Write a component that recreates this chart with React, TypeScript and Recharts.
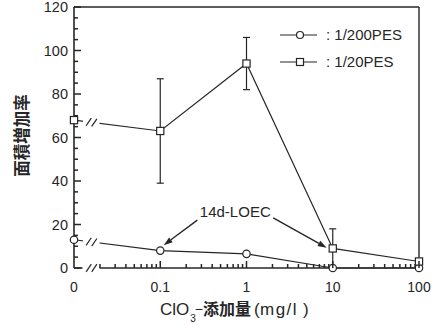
import React from 'react'
import { LineChart, Line, XAxis, YAxis, ErrorBar, ReferenceLine, ReferenceDot, Legend } from 'recharts'

// x positions are evenly spaced decades, with "0" one decade left of 0.1 (axis is broken there)
const xLabels = ['0', '0.1', '1', '10', '100']
const xPos = [0, 1, 2, 3, 4]
const pes200 = [13, 8, 6.5, 0, 0]
const pes20 = [68, 63, 94, 9, 3]
const pes20Err: (number | null)[] = [null, 24, 12, 9, null]

const yTicks = [0, 5, 10, 15, 20, 25, 30, 35, 40, 45, 50, 55, 60, 65, 70, 75, 80, 85, 90, 95, 100, 105, 110, 115, 120]
const minorSteps = [2, 3, 4, 5, 6, 7, 8, 9]
const xTicks = [
  ...xPos,
  ...[0, 1, 2, 3].flatMap((d) => minorSteps.map((m) => d + Math.log10(m))),
].sort((a, b) => a - b)

// "14d-LOEC" annotation, in data units
const loecLabel = { x: 1.87, y: 26 }
const loecArrows = [
  [{ x: 1.43, y: 22 }, { x: 1.04, y: 10.5 }],
  [{ x: 2.31, y: 23 }, { x: 2.93, y: 9.3 }],
]

const data = xPos.map((x, i) => ({
  x,
  pes200: pes200[i],
  pes20: pes20[i],
  err: pes20Err[i],
}))

const ink = '#262626'
const sans = '"Liberation Sans", Arial, Helvetica, sans-serif'
const cjk = '"Noto Sans CJK JP", "Noto Sans CJK SC", sans-serif'

function Slash({ x, y }: { x: number; y: number }) {
  return <line x1={x - 2.6} y1={y + 3.8} x2={x + 2.6} y2={y - 3.8} stroke={ink} strokeWidth={1.2} />
}

function makeDot(kind: 'circle' | 'square') {
  return (p: any) => {
    const { cx, cy, index, points } = p
    const k = `${kind}-${index}`
    if (cx == null || cy == null) return <g key={k} />
    const marker =
      kind === 'circle' ? (
        <circle cx={cx} cy={cy} r={3.7} fill="#fff" stroke={ink} strokeWidth={1.2} />
      ) : (
        <rect x={cx - 3.6} y={cy - 3.6} width={7.2} height={7.2} fill="#fff" stroke={ink} strokeWidth={1.2} />
      )
    if (index !== 0 || !points || points.length < 2) return <g key={k}>{marker}</g>
    // break in the first segment: white gap plus "//"
    const p1 = points[1]
    const at = (px: number) => cy + ((p1.y - cy) * (px - cx)) / (p1.x - cx)
    const g0 = cx + 9
    const g1 = cx + 25.5
    return (
      <g key={k}>
        <polygon
          points={`${g0},${at(g0) - 3} ${g1},${at(g1) - 3} ${g1},${at(g1) + 3} ${g0},${at(g0) + 3}`}
          fill="#fff"
        />
        <Slash x={cx + 14.7} y={at(cx + 14.7)} />
        <Slash x={cx + 20.3} y={at(cx + 20.3)} />
        {marker}
      </g>
    )
  }
}

function XTick(props: any) {
  const x = Number(props.x)
  const y = Number(props.y)
  const v = props.payload.value as number
  const major = Number.isInteger(v)
  return (
    <g>
      {v !== 0 && <line x1={x} y1={y} x2={x} y2={y - (major ? 7 : 4)} stroke={ink} strokeWidth={1.5} />}
      {v === 0 && (
        <g>
          <rect x={x + 8.5} y={y - 3} width={17} height={6} fill="#fff" />
          <Slash x={x + 14.7} y={y} />
          <Slash x={x + 20.3} y={y} />
        </g>
      )}
      {major && (
        <text x={x} y={y + 24} textAnchor="middle" fontSize={14} fontFamily={sans} fill={ink}>
          {xLabels[v]}
        </text>
      )}
    </g>
  )
}

function YTick(props: any) {
  const x = Number(props.x)
  const y = Number(props.y)
  const v = props.payload.value as number
  const major = v % 20 === 0
  return (
    <g>
      <line x1={x} y1={y} x2={x + (major ? 7 : 4)} y2={y} stroke={ink} strokeWidth={1.5} />
      {major && (
        <text x={x - 6} y={y + 5} textAnchor="end" fontSize={14.5} fontFamily={sans} fill={ink}>
          {v}
        </text>
      )}
    </g>
  )
}

function YTitle(props: any) {
  const vb = props.viewBox || { x: 0, y: 7, width: 74, height: 261 }
  const cx = vb.x + 21
  const cy = vb.y + vb.height / 2 - 2
  return (
    <text
      x={cx}
      y={cy}
      transform={`rotate(-90, ${cx}, ${cy})`}
      textAnchor="middle"
      dominantBaseline="central"
      fontSize={16.5}
      fontWeight="bold"
      fontFamily={cjk}
      fill={ink}
    >
      面積増加率
    </text>
  )
}

function XTitle(props: any) {
  const vb = props.viewBox || { x: 74, y: 268, width: 345, height: 61 }
  const x = vb.x + 86
  const y = vb.y + 47
  return (
    <text x={x} y={y} fontSize={17} fontFamily={sans} fill={ink}>
      ClO
      <tspan fontSize={10} dx={1} dy={7}>3</tspan>
      <tspan fontSize={14} dx={-1} dy={-8}>−</tspan>
      <tspan x={x + 43} dy={1} fontFamily={cjk} fontSize={16} fontWeight="bold">添加量</tspan>
      <tspan x={x + 94}>(</tspan>
      <tspan x={x + 100} letterSpacing={1.5}>mg/l</tspan>
      <tspan x={x + 143}>)</tspan>
    </text>
  )
}

function LegendRow({ kind, text }: { kind: 'circle' | 'square'; text: string }) {
  return (
    <div style={{ display: 'flex', alignItems: 'center', height: 27 }}>
      <svg width={38} height={12} style={{ display: 'block' }}>
        <line x1={0} y1={6} x2={37} y2={6} stroke={ink} strokeWidth={1.2} />
        {kind === 'circle' ? (
          <circle cx={20} cy={6} r={3.5} fill="#fff" stroke={ink} strokeWidth={1.2} />
        ) : (
          <rect x={16.5} y={2.5} width={7} height={7} fill="#fff" stroke={ink} strokeWidth={1.2} />
        )}
      </svg>
      <span style={{ marginLeft: 8, fontSize: 15, fontFamily: sans, color: ink, whiteSpace: 'nowrap' }}>{text}</span>
    </div>
  )
}

function LegendBox() {
  return (
    <div>
      <LegendRow kind="circle" text=": 1/200PES" />
      <LegendRow kind="square" text=": 1/20PES" />
    </div>
  )
}

function Arrow(props: any) {
  const { x1, y1, x2, y2 } = props
  if (x1 == null) return <g />
  const ang = Math.atan2(y2 - y1, x2 - x1)
  const len = 9
  const w = 3
  const bx = x2 - len * Math.cos(ang)
  const by = y2 - len * Math.sin(ang)
  const px = -Math.sin(ang) * w
  const py = Math.cos(ang) * w
  return (
    <g>
      <line x1={x1} y1={y1} x2={bx} y2={by} stroke={ink} strokeWidth={1.4} />
      <polygon points={`${x2},${y2} ${bx + px},${by + py} ${bx - px},${by - py}`} fill={ink} />
    </g>
  )
}

export default function App() {
  return (
    <div style={{ position: 'absolute', left: 0, top: 0, background: '#fff' }}>
      <LineChart width={440} height={329} data={data} margin={{ top: 7, right: 21, bottom: 0, left: 0 }}>
        <XAxis
          dataKey="x"
          type="number"
          domain={[0, 4]}
          ticks={xTicks}
          interval={0}
          tickSize={0}
          tickMargin={0}
          tickLine={false}
          tick={<XTick />}
          axisLine={{ stroke: ink, strokeWidth: 1.6 }}
          height={61}
          label={<XTitle />}
        />
        <YAxis
          type="number"
          domain={[0, 120]}
          ticks={yTicks}
          interval={0}
          tickSize={0}
          tickMargin={0}
          tickLine={false}
          tick={<YTick />}
          axisLine={{ stroke: ink, strokeWidth: 1.6 }}
          width={74}
          label={<YTitle />}
        />
        <ReferenceLine y={120} stroke={ink} strokeWidth={1.4} />
        <ReferenceLine x={4} stroke={ink} strokeWidth={1.4} />
        <Line
          dataKey="pes200"
          stroke={ink}
          strokeWidth={1.2}
          dot={makeDot('circle')}
          activeDot={false}
          isAnimationActive={false}
        />
        <Line
          dataKey="pes20"
          stroke={ink}
          strokeWidth={1.2}
          dot={makeDot('square')}
          activeDot={false}
          isAnimationActive={false}
        >
          <ErrorBar dataKey="err" direction="y" width={3.5} stroke={ink} strokeWidth={1.2} isAnimationActive={false} />
        </Line>
        {loecArrows.map((seg, i) => (
          <ReferenceLine key={i} segment={seg} shape={<Arrow />} />
        ))}
        <ReferenceDot
          x={loecLabel.x}
          y={loecLabel.y}
          r={0}
          fill="none"
          stroke="none"
          label={{ value: '14d-LOEC', position: 'center', fontSize: 15, fontFamily: sans, fill: ink }}
        />
        <Legend
          layout="horizontal"
          verticalAlign="middle"
          align="center"
          content={<LegendBox />}
          wrapperStyle={{ top: 21, left: 280, width: 150 }}
        />
      </LineChart>
    </div>
  )
}
